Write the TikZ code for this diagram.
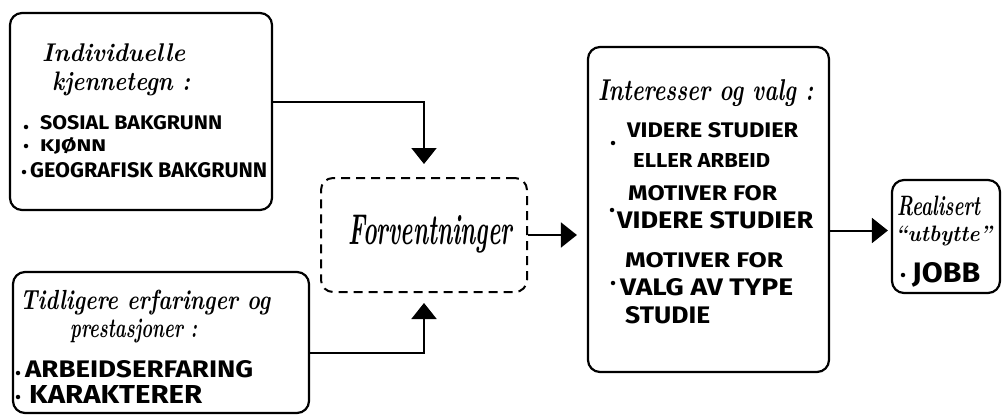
\documentclass[tikz,border=0pt]{standalone}
\usepackage{fontspec}
\newfontfamily\capsf{Fira Sans}
\usetikzlibrary{arrows.meta}
\newcommand\fwh[3]{\resizebox*{#1pt}{#2pt}{#3}}
\newcommand\fwc[3]{\resizebox{#1pt}{#2pt}{#3}}
\tikzset{
 box/.style={draw, line width=2.2pt, rounded corners=12pt, inner sep=0pt},
 dbox/.style={draw, line width=2pt, dash pattern=on 9pt off 6pt, rounded corners=12pt, inner sep=0pt},
 hand/.style={font=\bfseries\itshape, inner sep=0pt, anchor=west},
 caps/.style={font=\capsf\bfseries, inner sep=0pt, anchor=west},
 dot/.style={circle, fill, inner sep=0pt, minimum size=4.5pt},
 conn/.style={line width=2pt, -{Triangle[width=25pt,length=16pt]}},
}
\begin{document}
\begin{tikzpicture}[x=1pt,y=-1pt]
\useasboundingbox (0,0) rectangle (1003,417);
% boxes
\node[box, minimum width=262pt, minimum height=197pt] (b1) at (141,111.5) {};
\node[box, minimum width=296pt, minimum height=141pt] (b2) at (161,342.5) {};
\node[dbox, minimum width=206pt, minimum height=114pt] (fv) at (424,235) {};
\node[box, minimum width=241pt, minimum height=325pt] (b3) at (708.5,209.5) {};
\node[box, minimum width=108pt, minimum height=113pt] (b4) at (946,236.5) {};
% box 1 texts
\node[hand] (t1a) at (42,53) {\fwh{143}{18}{Individuelle}};
\node[hand] (t1b) at (52,84) {\fwh{138}{24}{kjennetegn :}};
\node[dot] (d1a) at (26,127) {};
\node[caps] (t1c) at (40,123) {\fwc{182}{14}{SOSIAL BAKGRUNN}};
\node[dot] (d1b) at (26,146) {};
\node[caps] (t1d) at (40,146) {\fwc{66}{14}{KJØNN}};
\node[dot] (d1c) at (24,172) {};
\node[caps] (t1e) at (30,170) {\fwc{237}{15}{GEOGRAFISK BAKGRUNN}};
% box 2 texts
\node[hand] (t2a) at (20,303) {\fwh{250}{25}{Tidligere erfaringer og}};
\node[hand] (t2b) at (70,331) {\fwh{127}{24}{prestasjoner :}};
\node[dot] (d2a) at (18,373) {};
\node[caps] (t2c) at (25,369) {\fwc{228}{17}{ARBEIDSERFARING}};
\node[dot] (d2b) at (18,397) {};
\node[caps] (t2d) at (29,394) {\fwc{173}{18}{KARAKTERER}};
% expectations
\node[hand] (tfv) at (348,234) {\fwh{164}{38}{Forventninger}};
% box 3 texts
\node[hand] (t3a) at (598,93) {\fwh{215}{27}{Interesser og valg :}};
\node[dot] (d3a) at (613,143) {};
\node[caps] (t3b) at (627,130) {\fwc{171}{15}{VIDERE STUDIER}};
\node[caps] (t3c) at (633,160) {\fwc{137}{14}{ELLER ARBEID}};
\node[dot] (d3b) at (612,210) {};
\node[caps] (t3d) at (628,193) {\fwc{149}{15}{MOTIVER FOR}};
\node[caps] (t3e) at (617,220) {\fwc{196}{17}{VIDERE STUDIER}};
\node[dot] (d3c) at (613,283) {};
\node[caps] (t3f) at (625,260) {\fwc{158}{15}{MOTIVER FOR}};
\node[caps] (t3g) at (620,287) {\fwc{173}{17}{VALG AV TYPE}};
\node[caps] (t3h) at (625,315) {\fwc{85}{17}{STUDIE}};
% box 4 texts
\node[hand] (t4a) at (897,206) {\fwh{83}{20}{Realisert}};
\node[hand] (t4b) at (895,236) {\fwh{97}{20}{``utbytte''}};
\node[dot] (d4a) at (903,275) {};
\node[caps] (t4c) at (912,275) {\fwc{68}{20}{JOBB}};
% connectors
\draw[conn] ([yshift=9.5pt]b1.east) -| ([yshift=13pt]fv.north);
\draw[conn] ([yshift=-10.5pt]b2.east) -| ([yshift=-10pt]fv.south);
\draw[conn, shorten >=10pt] (fv.east) -- (fv.east -| b3.west);
\draw[conn, shorten >=3pt] ([yshift=6pt]b4.west -| b3.east) -- ([yshift=6pt]b4.west);
\end{tikzpicture}
\end{document}
